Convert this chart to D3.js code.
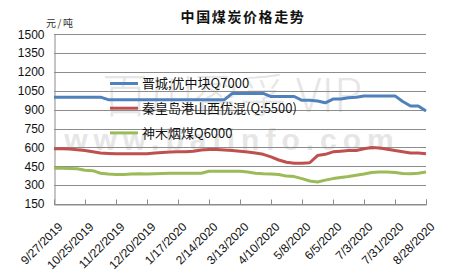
<!DOCTYPE html>
<html><head><meta charset="utf-8">
<script src="https://cdn.jsdelivr.net/npm/d3@7"></script>
<style>
html,body{margin:0;padding:0;background:#fff;}
svg{display:block;}
</style></head>
<body>
<svg id="c" width="456" height="278"></svg>
<script>
const title = "中国煤炭价格走势";
const unitLabel = "元/吨";
const seriesNames = ["晋城;优中块Q7000", "秦皇岛港山西优混(Q:5500)", "神木烟煤Q6000"];
const seriesColors = ["#4F81BD", "#C0504D", "#9BBB59"];
const startDate = "2019-09-27";
const xTickLabels = ["9/27/2019","10/25/2019","11/22/2019","12/20/2019","1/17/2020","2/14/2020","3/13/2020","4/10/2020","5/8/2020","6/5/2020","7/3/2020","7/31/2020","8/28/2020"];
const yTicks = [150,300,450,600,750,900,1050,1200,1350,1500];

// weekly values
const jinchengValues = [1000,1000,1000,1000,1000,1000,1000,980,980,980,980,980,980,980,980,980,980,980,980,980,980,980,980,1030,1030,1030,1030,1030,1005,1005,1005,1005,975,975,970,955,985,985,995,1000,1010,1010,1010,1010,1010,965,930,930,890];
const qinhuangdaoValues = [590,590,588,582,575,565,555,552,550,550,550,550,550,555,560,563,565,565,570,580,583,583,580,575,570,563,555,545,525,500,482,475,475,478,535,545,565,570,575,575,590,600,595,585,575,565,555,555,550];
const shenmuValues = [435,435,432,430,418,415,395,388,385,385,388,390,388,390,393,395,395,395,395,395,410,410,410,410,410,405,395,390,388,385,372,368,352,333,325,340,352,360,368,378,388,400,405,405,400,393,390,395,405];

const svg = d3.select("#c");
const parse = d3.timeParse("%m/%d/%Y");
const t0 = d3.timeParse("%Y-%m-%d")(startDate);
const dates = jinchengValues.map((_, i) => d3.timeDay.offset(t0, 7 * i));
const tickDates = xTickLabels.map(parse);

const x = d3.scaleTime().domain([tickDates[0], tickDates[tickDates.length - 1]]).range([54, 426]);
const y = d3.scaleLinear().domain([150, 1500]).range([204, 34.3]);

// watermark
const wm = svg.append("g").attr("fill", "#e6e6e6").attr("font-family", "'Noto Sans CJK SC', sans-serif");
wm.append("text").attr("x", 232).attr("y", 112).attr("text-anchor", "middle").attr("font-size", 46).attr("font-weight", 300).text("百川盈孚 VIP");
wm.append("text").attr("x", 232).attr("y", 150).attr("text-anchor", "middle").attr("font-size", 30).attr("font-weight", 700).attr("font-family", "'Liberation Sans', Arial, sans-serif").attr("letter-spacing", 6).text("www.baiinfo.com");

// gridlines
svg.append("g").selectAll("line").data(yTicks).join("line")
  .attr("x1", 54).attr("x2", 426)
  .attr("y1", d => Math.round(y(d)) + 0.5).attr("y2", d => Math.round(y(d)) + 0.5)
  .attr("stroke", "#8c8c8c").attr("stroke-width", 1);

// y axis
const yAxis = d3.axisLeft(y).tickValues(yTicks).tickSize(0).tickPadding(10).tickFormat(d3.format("d"));
const gy = svg.append("g").attr("transform", "translate(54.5,0)").call(yAxis);
gy.select(".domain").attr("stroke", "#8c8c8c");
gy.selectAll("text").attr("font-family", "'Liberation Sans', Arial, sans-serif").attr("font-size", 12).attr("fill", "#111");

// x axis
const xAxis = d3.axisBottom(x).tickValues(tickDates).tickSize(-5).tickFormat((d, i) => xTickLabels[i]);
const gx = svg.append("g").attr("transform", "translate(0,204.5)").call(xAxis);
gx.select(".domain").attr("stroke", "#8c8c8c");
gx.selectAll(".tick line").attr("stroke", "#8c8c8c");
gx.selectAll("text")
  .attr("font-family", "'Liberation Sans', Arial, sans-serif").attr("font-size", 12).attr("fill", "#111")
  .attr("text-anchor", "end").attr("dy", "0.35em").attr("y", 0)
  .attr("transform", "translate(6,20) rotate(-45)");

// lines
const allSeries = [jinchengValues, qinhuangdaoValues, shenmuValues];
const line = d3.line().x((d, i) => x(dates[i])).y(d => y(d));
svg.append("g").selectAll("path").data(allSeries).join("path")
  .attr("d", line).attr("fill", "none")
  .attr("stroke", (d, i) => seriesColors[i]).attr("stroke-width", 3).attr("stroke-linejoin", "round");

// legend
const lg = svg.append("g").selectAll("g").data(seriesNames).join("g")
  .attr("transform", (d, i) => `translate(110,${83.5 + i * 24.7})`);
lg.append("line").attr("x1", 0).attr("x2", 28).attr("stroke", (d, i) => seriesColors[i]).attr("stroke-width", 3);
lg.append("text").attr("x", 32).attr("dy", "0.36em").attr("font-size", 13)
  .attr("font-family", "'Noto Sans CJK SC', 'Liberation Sans', sans-serif").attr("fill", "#111").text(d => d);

// title
svg.append("text").attr("x", 243).attr("y", 22).attr("text-anchor", "middle")
  .attr("font-size", 14).attr("font-weight", 700).attr("letter-spacing", 1.6)
  .attr("font-family", "'Noto Sans CJK SC', sans-serif").attr("fill", "#111").text(title);

// unit
svg.append("text").attr("x", 46).attr("y", 27).attr("font-size", 10).attr("letter-spacing", 1.5)
  .attr("font-family", "'Noto Sans CJK SC', sans-serif").attr("fill", "#333").text(unitLabel);
</script>
</body></html>
